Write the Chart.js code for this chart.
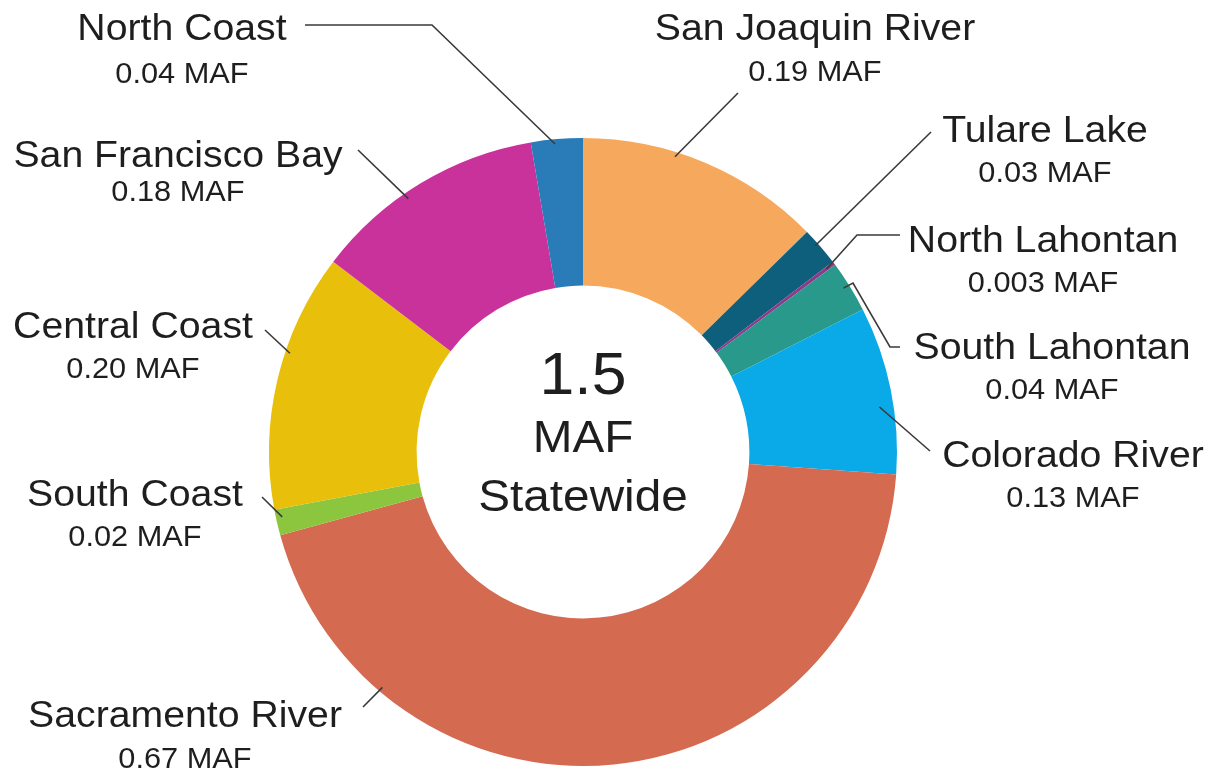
<!DOCTYPE html>
<html>
<head>
<meta charset="utf-8">
<script src="https://cdn.jsdelivr.net/npm/chart.js@4.4.1/dist/chart.umd.min.js"></script>
<style>
  html, body { margin: 0; padding: 0; background: #fff; }
  #wrap { width: 1219px; height: 772px; position: relative; }
</style>
</head>
<body>
<div id="wrap"><canvas id="regionChart"></canvas></div>
<script>
// ---- data ----
const regions = ['San Joaquin River', 'Tulare Lake', 'North Lahontan', 'South Lahontan', 'Colorado River',
                 'Sacramento River', 'South Coast', 'Central Coast', 'San Francisco Bay', 'North Coast'];
const volumes = [0.19, 0.03, 0.003, 0.04, 0.13, 0.67, 0.02, 0.20, 0.18, 0.04];
const valueLabels = ['0.19 MAF', '0.03 MAF', '0.003 MAF', '0.04 MAF', '0.13 MAF',
                     '0.67 MAF', '0.02 MAF', '0.20 MAF', '0.18 MAF', '0.04 MAF'];
const centerLines = ['1.5', 'MAF', 'Statewide'];

const sliceColors = ['#F6A95C', '#0E5F7B', '#8E3A8A', '#28998B', '#0AA9E7',
                     '#D46A50', '#8CC63F', '#E8BF0B', '#C9319B', '#2A7CB9'];

// label placement: text centre (x, name y, value y), leader tip (fraction along slice, fraction of radius), bends
const labelLayout = [
    { x: 815,  y: 27,  vy: 71,  tip: [0.38, 0.985], bends: [[738, 93]] },
    { x: 1045, y: 129, vy: 172, tip: [0.40, 0.99],  bends: [[931, 132]] },
    { x: 1043, y: 239, vy: 282, tip: [0.50, 0.97],  bends: [[900, 235], [857, 235]] },
    { x: 1052, y: 346, vy: 389, tip: [0.46, 0.98],  bends: [[900, 347], [890, 347], [853, 283]] },
    { x: 1073, y: 454, vy: 497, tip: [0.59, 0.955], bends: [[930, 451]] },
    { x: 185,  y: 714, vy: 758, tip: [0.787, 0.985], bends: [[363, 707]] },
    { x: 135,  y: 493, vy: 536, tip: [0.67, 0.98],  bends: [[262, 497]] },
    { x: 133,  y: 325, vy: 368, tip: [0.61, 0.985], bends: [[265, 330]] },
    { x: 178,  y: 154, vy: 191, tip: [0.42, 0.98],  bends: [[358, 150]] },
    { x: 182,  y: 27,  vy: 73,  tip: [0.46, 0.985], bends: [[305, 25], [432, 25]] }
];

const FONT = "'Liberation Sans', Arial, sans-serif";
const STRETCH = 1.06;

function drawText(ctx, text, x, capMidY, size) {
    ctx.save();
    ctx.font = size + 'px ' + FONT;
    ctx.textAlign = 'center';
    ctx.textBaseline = 'alphabetic';
    ctx.translate(x, capMidY + size * 0.358);
    ctx.scale(STRETCH, 1);
    ctx.fillText(text, 0, 0);
    ctx.restore();
}

const labelPlugin = {
    id: 'regionLabels',
    afterDraw(chart) {
        const ctx = chart.ctx;
        const arcs = chart.getDatasetMeta(0).data;
        ctx.save();
        ctx.fillStyle = '#1e1e1e';

        labelLayout.forEach((lay, i) => {
            const arc = arcs[i];
            const { x, y, startAngle, endAngle, outerRadius } = arc.getProps(['x', 'y', 'startAngle', 'endAngle', 'outerRadius'], true);
            const a = startAngle + lay.tip[0] * (endAngle - startAngle);
            const r = outerRadius * lay.tip[1];
            const tx = x + Math.cos(a) * r;
            const ty = y + Math.sin(a) * r;

            ctx.beginPath();
            ctx.strokeStyle = '#3a3a3a';
            ctx.lineWidth = 1.6;
            ctx.moveTo(lay.bends[0][0], lay.bends[0][1]);
            lay.bends.slice(1).forEach(p => ctx.lineTo(p[0], p[1]));
            ctx.lineTo(tx, ty);
            ctx.stroke();

            drawText(ctx, regions[i], lay.x, lay.y, 37);
            drawText(ctx, valueLabels[i], lay.x, lay.vy, 29);
        });

        // total in the hole
        const c = arcs[0];
        drawText(ctx, centerLines[0], c.x, 373, 59);
        drawText(ctx, centerLines[1], c.x, 436, 45);
        drawText(ctx, centerLines[2], c.x, 495, 45);
        ctx.restore();
    }
};

new Chart(document.getElementById('regionChart'), {
    type: 'doughnut',
    data: {
        labels: regions,
        datasets: [{
            data: volumes,
            backgroundColor: sliceColors,
            borderWidth: 0
        }]
    },
    options: {
        responsive: true,
        maintainAspectRatio: false,
        animation: false,
        cutout: '53%',
        layout: { padding: { top: 138, bottom: 6, left: 0, right: 53 } },
        plugins: {
            legend: { display: false },
            tooltip: { enabled: false },
            title: { display: false }
        }
    },
    plugins: [labelPlugin]
});
</script>
</body>
</html>
